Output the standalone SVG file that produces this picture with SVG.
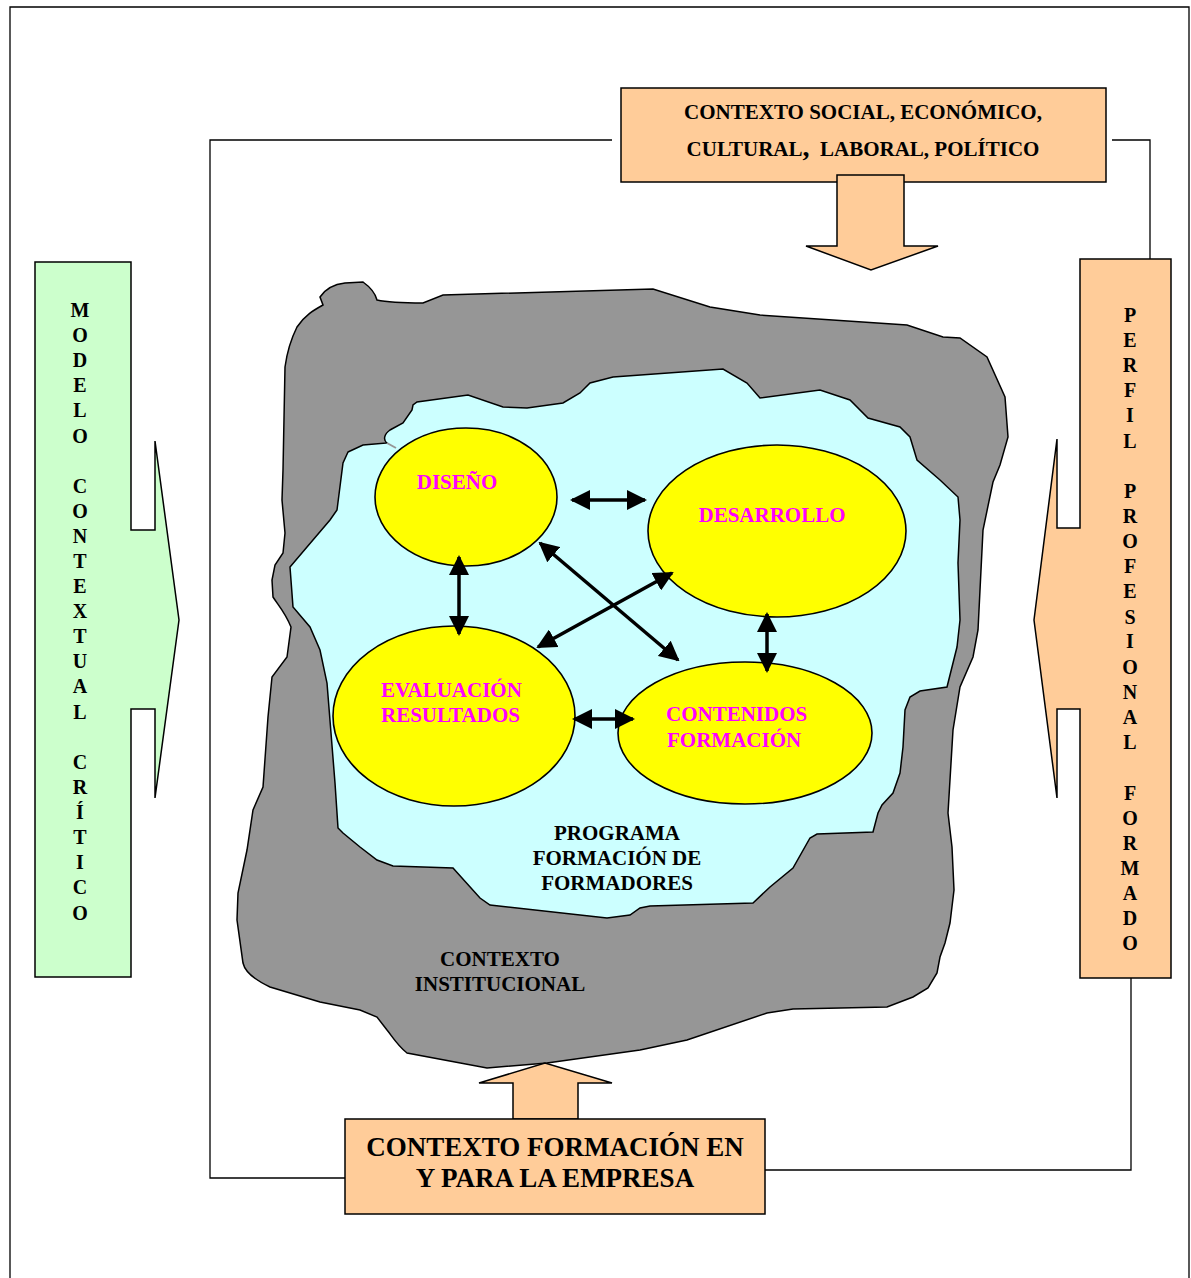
<svg xmlns="http://www.w3.org/2000/svg" width="1191" height="1278" viewBox="0 0 1191 1278">
<style>
.t{font-family:"Liberation Serif","Times New Roman",serif;font-weight:bold;fill:#000}
.m{font-family:"Liberation Serif","Times New Roman",serif;font-weight:bold;fill:#FF00FF;font-size:21px}
.ln{fill:none;stroke:#000;stroke-width:1.3}
.sh{stroke:#000;stroke-width:1.5}
.peach{fill:#FFCC99}
.ell{fill:#FFFF00;stroke:#000;stroke-width:1.6}
.arr{stroke:#000;stroke-width:3.5;fill:none;marker-start:url(#ah);marker-end:url(#ah)}
.v{font-size:20px;text-anchor:middle}
</style>
<defs>
<marker id="ah" viewBox="0 0 20 20" refX="18" refY="10" markerWidth="20" markerHeight="20" markerUnits="userSpaceOnUse" orient="auto-start-reverse">
<path d="M0,0 L20,10 L0,20 Z" fill="#000"/>
</marker>
</defs>
<rect width="1191" height="1278" fill="#fff"/>
<path class="ln" d="M10,1278 V7 H1189 V1278"/>

<g id="connectors">
<path class="ln" d="M612,140 H210 V1178 H345"/>
<path class="ln" d="M1112,140 H1150 V259"/>
<path class="ln" d="M1131,978 V1170 H765"/>
</g>

<g id="contexto-institucional">
<path class="sh" fill="#969696" d="M320,297 C326,288 336,284 345,283 L363,282 C370,287 375,292 377,300 C390,303 410,303 423,303 L443,295 L653,289 L710,307 L760,315 L907,325 L943,337 L960,338 L987,357 L1005,397 L1008,437 L1000,465 L993,482 L983,530 L978,630 L973,657 L960,687 L953,730 L948,813 L952,847 L954,890 L950,923 L945,943 L940,957 L937,973 L928,988 L913,997 L887,1007 L793,1009 L767,1013 L687,1040 L640,1050 L547,1063 L487,1068 L407,1053 C397,1045 392,1036 387,1030 L377,1017 L360,1010 L350,1008 L320,1002 L270,987 C255,980 245,972 243,963 L237,920 L238,893 L247,850 L253,810 L263,787 L268,717 L272,677 L287,657 L291,627 C285,612 278,605 273,597 L272,580 L275,565 L283,553 L285,533 L282,500 L283,470 L285,367 C288,345 294,333 297,327 C305,315 314,310 323,305 Z"/>
<text class="t" font-size="21" text-anchor="middle" x="500" y="966">CONTEXTO</text>
<text class="t" font-size="21" text-anchor="middle" x="500" y="991">INSTITUCIONAL</text>
</g>

<g id="programa">
<path class="sh" fill="#CCFFFF" d="M348,452 L363,445 L387,443 C383,440 384,434 390,430 L403,423 L412,410 L413,405 L417,402 L468,395 L503,407 L527,408 L563,403 L580,393 L590,383 L613,377 L723,369 L747,383 L760,398 L820,390 L850,400 L868,418 L900,427 L910,437 L917,460 L940,480 L958,497 L960,520 L958,563 L960,620 L957,647 L947,687 L920,691 L910,697 L905,710 L903,747 L900,773 L893,793 L882,805 L878,813 L873,832 L817,834 L810,838 L793,868 L770,887 L753,903 L650,906 L640,908 L630,915 L607,918 L490,905 L480,898 L453,868 L393,866 L377,860 L360,847 L343,833 L338,828 L335,783 L327,683 L320,650 L310,627 L293,607 L290,567 L307,547 L330,520 L337,510 L343,463 Z"/>
<path d="M387,443 L396,448" stroke="#969696" stroke-width="2"/>
<text class="t" font-size="21" text-anchor="middle" x="617" y="840">PROGRAMA</text>
<text class="t" font-size="21" text-anchor="middle" x="617" y="865">FORMACIÓN DE</text>
<text class="t" font-size="21" text-anchor="middle" x="617" y="890">FORMADORES</text>
</g>

<g id="diseno">
<ellipse class="ell" cx="466" cy="497" rx="91" ry="69"/>
<text class="m" text-anchor="middle" x="457" y="489">DISEÑO</text>
</g>
<g id="desarrollo">
<ellipse class="ell" cx="777" cy="531" rx="129" ry="86"/>
<text class="m" text-anchor="middle" x="772" y="522">DESARROLLO</text>
</g>
<g id="evaluacion">
<ellipse class="ell" cx="454" cy="716" rx="121" ry="90"/>
<text class="m" x="381" y="697">EVALUACIÓN</text>
<text class="m" x="381" y="722">RESULTADOS</text>
</g>
<g id="contenidos">
<ellipse class="ell" cx="745" cy="733" rx="127" ry="71"/>
<text class="m" x="666" y="721">CONTENIDOS</text>
<text class="m" x="667" y="747">FORMACIÓN</text>
</g>

<g id="inner-arrows">
<line class="arr" x1="572" y1="500" x2="645" y2="500"/>
<line class="arr" x1="459" y1="557" x2="459" y2="634"/>
<line class="arr" x1="767" y1="614" x2="767" y2="671"/>
<line class="arr" x1="574" y1="719" x2="633" y2="719"/>
<line class="arr" x1="540" y1="543" x2="678" y2="660"/>
<line class="arr" x1="538" y1="647" x2="672" y2="573"/>
</g>

<g id="contexto-social">
<rect class="sh peach" x="621" y="88" width="485" height="94"/>
<polygon class="sh peach" points="837,175 904,175 904,246 938,246 871,270 806,246 837,246"/>
<text class="t" font-size="21" text-anchor="middle" x="863" y="119">CONTEXTO SOCIAL, ECONÓMICO,</text>
<text class="t" font-size="21" text-anchor="middle" x="863" y="156">CULTURAL<tspan font-size="28">,</tspan>&#160; LABORAL, POLÍTICO</text>
</g>

<g id="contexto-empresa">
<polygon class="sh peach" points="513,1119 513,1083 479,1083 545,1063 612,1083 578,1083 578,1119"/>
<rect class="sh peach" x="345" y="1119" width="420" height="95"/>
<text class="t" font-size="27" text-anchor="middle" x="555" y="1156">CONTEXTO FORMACIÓN EN</text>
<text class="t" font-size="27" text-anchor="middle" x="555" y="1187">Y PARA LA EMPRESA</text>
</g>

<g id="modelo">
<polygon class="sh" fill="#CCFFCC" points="35,262 131,262 131,530 155,530 155,441 179,620 155,798 155,709 131,709 131,977 35,977"/>
<text class="t v" x="80"><tspan x="80" y="317">M</tspan><tspan x="80" y="342">O</tspan><tspan x="80" y="367">D</tspan><tspan x="80" y="392">E</tspan><tspan x="80" y="417">L</tspan><tspan x="80" y="443">O</tspan><tspan x="80" y="493">C</tspan><tspan x="80" y="518">O</tspan><tspan x="80" y="543">N</tspan><tspan x="80" y="568">T</tspan><tspan x="80" y="593">E</tspan><tspan x="80" y="618">X</tspan><tspan x="80" y="643">T</tspan><tspan x="80" y="668">U</tspan><tspan x="80" y="693">A</tspan><tspan x="80" y="719">L</tspan><tspan x="80" y="769">C</tspan><tspan x="80" y="794">R</tspan><tspan x="80" y="819">Í</tspan><tspan x="80" y="844">T</tspan><tspan x="80" y="869">I</tspan><tspan x="80" y="894">C</tspan><tspan x="80" y="920">O</tspan></text>
</g>

<g id="perfil">
<polygon class="sh peach" points="1080,259 1171,259 1171,978 1080,978 1080,709 1057,709 1057,798 1034,620 1057,439 1057,528 1080,528"/>
<text class="t v" x="1130"><tspan x="1130" y="322">P</tspan><tspan x="1130" y="347">E</tspan><tspan x="1130" y="372">R</tspan><tspan x="1130" y="397">F</tspan><tspan x="1130" y="422">I</tspan><tspan x="1130" y="448">L</tspan><tspan x="1130" y="498">P</tspan><tspan x="1130" y="523">R</tspan><tspan x="1130" y="548">O</tspan><tspan x="1130" y="573">F</tspan><tspan x="1130" y="598">E</tspan><tspan x="1130" y="624">S</tspan><tspan x="1130" y="648">I</tspan><tspan x="1130" y="674">O</tspan><tspan x="1130" y="699">N</tspan><tspan x="1130" y="724">A</tspan><tspan x="1130" y="749">L</tspan><tspan x="1130" y="800">F</tspan><tspan x="1130" y="825">O</tspan><tspan x="1130" y="850">R</tspan><tspan x="1130" y="875">M</tspan><tspan x="1130" y="900">A</tspan><tspan x="1130" y="925">D</tspan><tspan x="1130" y="950">O</tspan></text>
</g>
</svg>
